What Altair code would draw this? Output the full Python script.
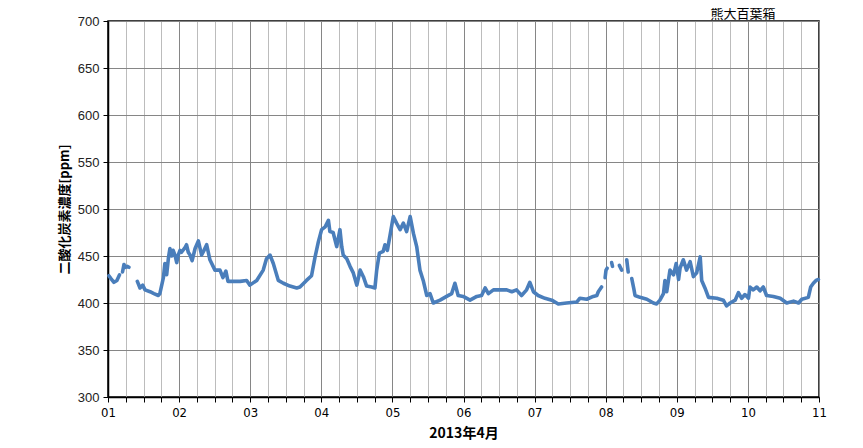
import altair as alt
import pandas as pd

# hours since 2013-04-01 00:00 and CO2 [ppm]; None marks a gap in the record
hours = [0.3, 1.0, 2.0, 3.0, 3.9, None,
         4.9, 5.4, 5.8, 6.5, 7.1, None,
         9.9, 10.8, 11.7, 12.5, 14.2, 15.5, 17.0, 17.5, 18.7, 19.2, 19.8, 20.4,
         20.9, 21.5, 22.0, 22.6, 23.2, 23.7, 24.3, 24.8, 26.0, 26.5, 27.1, 27.7,
         28.4, 29.4, 30.5, 31.6, 32.4, 33.3, 34.4, 36.1, 37.8, 38.8, 39.8, 40.5,
         42.2, 44.6, 46.8, 47.9, 50.2, 52.4, 53.5, 54.7, 55.8, 57.5, 59.2, 61.4,
         63.7, 64.8, 67.0, 68.7, 69.9, 71.0, 72.1, 73.3, 74.4, 74.9, 76.0, 77.2,
         78.3, 78.9, 79.4, 80.6, 81.7, 82.8, 84.0, 85.1, 86.2, 87.3, 89.0, 90.1,
         90.7, 91.6, 92.9, 93.5, 94.3, 95.2, 96.3, 97.4, 98.6, 99.7, 100.8, 102.0,
         103.1, 104.2, 105.3, 106.4, 107.6, 108.7, 109.8, 112.1, 114.3, 116.0,
         117.1, 118.2, 119.9, 122.2, 124.5, 126.1, 127.3, 128.4, 130.1, 132.3,
         134.6, 136.3, 137.9, 139.6, 141.3, 142.4, 143.6, 145.2, 147.5, 149.8,
         152.0, 154.8, 158.2, 159.3, 161.6, 163.8, 165.0, 165.5, 166.6, None,
         167.8, 168.1, 168.5, None,
         170.0, 170.3, None,
         172.6, 173.4, None,
         175.1, 175.6, None,
         176.8, 177.5, 177.9, 179.6, 181.9, 184.1, 185.2, 186.3, 187.5, 188.0,
         188.6, 189.7, 190.9, 191.8, 192.6, 193.1, 194.2, 195.3, 196.5, 197.6,
         198.7, 199.9, 200.4, 201.5, 202.7, 205.5, 207.7, 208.8, 210.0, 211.7,
         212.8, 213.9, 215.0, 216.2, 216.7, 217.8, 219.0, 220.1, 221.2, 222.3,
         224.6, 226.9, 229.1, 231.4, 233.1, 234.2, 236.4, 237.2, 238.1, 239.0,
         239.8]

co2 = [429, 426, 422, 424, 430, None,
       433, 441, 438, 439, 438, None,
       423, 416, 419, 414, 412, 410, 408, 410, 427, 442, 430, 448,
       458, 450, 456, 451, 443, 451, 456, 454, 459, 462, 454, 451,
       445, 458, 466, 451, 456, 462, 446, 435, 435, 427, 434, 423,
       423, 423, 424, 419, 424, 435, 447, 451, 442, 424, 421, 418,
       416, 417, 424, 429, 449, 465, 478, 481, 488, 476, 475, 460,
       478, 460, 451, 447, 439, 432, 419, 435, 428, 418, 417, 416,
       435, 453, 455, 462, 456, 472, 492, 485, 478, 485, 476, 492,
       474, 460, 435, 424, 408, 410, 400, 403, 407, 410,
       421, 408, 407, 403, 407, 408, 416, 410, 414, 414,
       414, 412, 414, 408, 414, 422, 412, 408, 405, 403,
       399, 400, 401, 405, 404, 407, 408, 412, 417, None,
       427, 435, 437, None,
       443, 439, None,
       440, 435, None,
       446, 433, None,
       426, 415, 408, 406, 404, 400, 399, 403, 410, 424,
       412, 435, 430, 442, 425, 437, 446, 435, 444, 428,
       432, 449, 424, 416, 406, 405, 403, 397, 400, 403,
       411, 405, 409, 405, 417, 414, 417, 413, 417, 408,
       407, 405, 400, 402, 400, 404, 406, 417, 421, 424,
       425]

title_text = ["熊大百葉箱"]
y_title = "二酸化炭素濃度[ppm]"
x_title = "2013年4月"

rows = []
seg = 0
for h, v in zip(hours, co2):
    if h is None:
        seg += 1
        continue
    rows.append({"day": 1 + h / 24.0, "co2": v, "seg": seg})
df = pd.DataFrame(rows)

x_vals = [1 + i * 0.25 for i in range(41)]

line = alt.Chart(df).mark_line(
    color="#4a7ebb", strokeWidth=3.6, strokeJoin="round", strokeCap="round"
).encode(
    x=alt.X("day:Q",
            scale=alt.Scale(domain=[1, 11], nice=False, zero=False),
            axis=alt.Axis(
                values=x_vals,
                labelExpr="datum.value % 1 === 0 ? (datum.value < 10 ? '0' + datum.value : '' + datum.value) : ''",
                title=x_title,
                grid=True,
                gridColor={"condition": {"test": "datum.value % 1 === 0", "value": "#868686"},
                           "value": "#bcbcbc"},
                gridWidth=1,
                domainColor="black", domainWidth=1.5,
                tickColor="black", tickSize=5,
                labelFont="Liberation Sans Narrow, DejaVu Sans Condensed, sans-serif",
                labelFontSize=13, labelColor="black", labelPadding=4,
                labelFlush=False, labelOverlap=False,
                titleFont="Liberation Sans Narrow, Noto Sans CJK JP, sans-serif",
                titleFontSize=14, titleFontWeight="bold", titleColor="black",
                titlePadding=7,
            )),
    y=alt.Y("co2:Q",
            scale=alt.Scale(domain=[300, 700], nice=False, zero=False),
            axis=alt.Axis(
                values=list(range(300, 701, 50)),
                title=y_title,
                grid=True, gridColor="#868686", gridWidth=1,
                domainColor="black", domainWidth=1.5,
                tickColor="black", tickSize=5,
                labelFont="Liberation Sans, Open Sans, sans-serif",
                labelFontSize=13, labelColor="#222222", labelPadding=4,
                titleFont="Noto Sans CJK JP, sans-serif",
                titleFontSize=13, titleFontWeight="bold", titleColor="black",
                titlePadding=6,
            )),
    detail="seg:N",
)

title = alt.Chart(pd.DataFrame({"t": title_text})).mark_text(
    font="Noto Sans CJK JP", fontSize=13, color="black", align="center",
    baseline="top"
).encode(text="t:N", x=alt.value(635), y=alt.value(-13))

chart = alt.layer(line, title).properties(
    width=711, height=376,
    autosize=alt.AutoSizeParams(type="none"),
    padding={"left": 100, "top": 13, "right": 35, "bottom": 43},
).configure_view(stroke="black", strokeWidth=1.5)

chart.save("out.html", embed_options={"renderer": "svg", "actions": False})
